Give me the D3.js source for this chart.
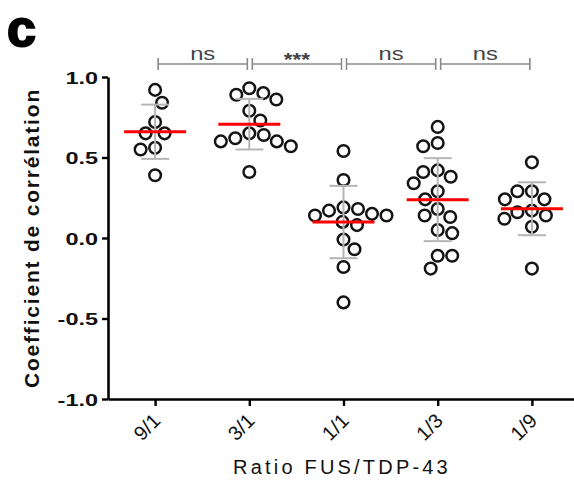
<!DOCTYPE html>
<html>
<head>
<meta charset="utf-8">
<script src="https://cdn.jsdelivr.net/npm/d3@7"></script>
<style>
  body { margin: 0; background: #fff; }
  svg { display: block; font-family: "Liberation Sans", Arial, sans-serif; }
</style>
</head>
<body>
<div id="wrapper"></div>
<script>
// categories (FUS/TDP-43 ratio) and correlation coefficients per group
const categories = ["9/1", "3/1", "1/1", "1/3", "1/9"]
const values91 = [0.92, 0.84, 0.72, 0.65, 0.65, 0.56, 0.55, 0.39]
const values31 = [0.93, 0.89, 0.86, 0.90, 0.79, 0.73, 0.64, 0.60, 0.60, 0.62, 0.65, 0.57, 0.41]
const values11 = [0.54, 0.36, 0.18, 0.10, 0.14, 0.14, 0.15, 0.17, 0.19, 0.08, -0.01, -0.07, -0.18, -0.40]
const values13 = [0.69, 0.57, 0.59, 0.42, 0.38, 0.34, 0.41, 0.29, 0.24, 0.18, 0.14, 0.13, 0.05, 0.03, -0.11, -0.11, -0.19]
const values19 = [0.47, 0.29, 0.24, 0.24, 0.29, 0.16, 0.12, 0.07, 0.14, 0.17, -0.19]
const sigLabels = ["ns", "***", "ns", "ns"]
const yTicks = [-1.0, -0.5, 0.0, 0.5, 1.0]

const groups = categories.map((c, i) => ({
    cat: c,
    values: [values91, values31, values11, values13, values19][i],
}))

const dimensions = {
    width: 574,
    height: 490,
    margin: { top: 77, right: -5, bottom: 91, left: 108 },
}
dimensions.boundedWidth = dimensions.width - dimensions.margin.left - dimensions.margin.right
dimensions.boundedHeight = dimensions.height - dimensions.margin.top - dimensions.margin.bottom

const svg = d3.select("#wrapper")
    .append("svg")
    .attr("width", dimensions.width)
    .attr("height", dimensions.height)

const bounds = svg.append("g")
    .attr("transform", `translate(${dimensions.margin.left},${dimensions.margin.top})`)

const xScale = d3.scalePoint()
    .domain(categories)
    .range([0, dimensions.boundedWidth])
    .padding(0.5)

const yScale = d3.scaleLinear()
    .domain([-1, 1])
    .range([dimensions.boundedHeight, 0])

// simple greedy beeswarm: nearest free horizontal offset for each point
function swarm(vals, minDist) {
    const placed = []
    const sorted = vals.slice().sort((a, b) => b - a)
    sorted.forEach((v, idx) => {
        const y = yScale(v)
        let found = null
        for (let k = 0; k < 400 && found === null; k++) {
            const cands = k === 0 ? [0] : (idx % 2 ? [k * 0.5, -k * 0.5] : [-k * 0.5, k * 0.5])
            for (const dx of cands) {
                const ok = placed.every(p => Math.hypot(p.dx - dx, p.y - y) >= minDist)
                if (ok) { found = dx; break }
            }
        }
        placed.push({ v: v, y: y, dx: found })
    })
    return placed
}

// y axis
const yAxis = bounds.append("g")
    .call(d3.axisLeft(yScale).tickValues(yTicks).tickFormat(d3.format(".1f")).tickSize(6).tickSizeOuter(0))
yAxis.select(".domain").attr("stroke", "#000").attr("stroke-width", 2.6)
yAxis.selectAll(".tick line").attr("stroke", "#000").attr("stroke-width", 2.4)
yAxis.selectAll(".tick text")
    .attr("x", null)
    .attr("dy", "0.36em")
    .attr("transform", "translate(-10,0) scale(1.38,1)")
    .attr("font-size", 17)
    .attr("font-weight", "bold")
    .attr("fill", "#111")
    .text(d => d3.format(".1f")(d).replace("−", "-"))

// x axis
const xAxis = bounds.append("g")
    .attr("transform", `translate(0,${dimensions.boundedHeight})`)
    .call(d3.axisBottom(xScale).tickSize(7).tickSizeOuter(0))
xAxis.select(".domain").attr("stroke", "#000").attr("stroke-width", 2.6)
xAxis.selectAll(".tick line").attr("stroke", "#000").attr("stroke-width", 2.4)
xAxis.selectAll(".tick text")
    .attr("x", null).attr("y", null).attr("dy", null)
    .attr("text-anchor", "end")
    .attr("transform", "translate(6,23) rotate(-45)")
    .attr("font-size", 20)
    .attr("fill", "#111")

// points, error bars (SD) and mean lines
groups.forEach(g => {
    const cx = xScale(g.cat)
    const pts = swarm(g.values, 14.5)
    const mean = d3.mean(g.values)
    const sd = d3.deviation(g.values)

    bounds.append("g").selectAll("circle")
        .data(pts)
        .join("circle")
        .attr("cx", d => cx + d.dx)
        .attr("cy", d => d.y)
        .attr("r", 5.8)
        .attr("fill", "none")
        .attr("stroke", "#141414")
        .attr("stroke-width", 2.5)

    const eb = bounds.append("g")
        .attr("stroke", "#b5b5b5")
        .attr("stroke-width", 2)
    eb.append("line")
        .attr("x1", cx).attr("x2", cx)
        .attr("y1", yScale(mean + sd)).attr("y2", yScale(mean - sd))
    ;[mean + sd, mean - sd].forEach(v => {
        eb.append("line")
            .attr("x1", cx - 14).attr("x2", cx + 14)
            .attr("y1", yScale(v)).attr("y2", yScale(v))
    })

    bounds.append("line")
        .attr("x1", cx - 31).attr("x2", cx + 31)
        .attr("y1", yScale(mean)).attr("y2", yScale(mean))
        .attr("stroke", "#ff0000")
        .attr("stroke-width", 3)
})

// significance brackets between neighbouring groups
const bracketY = yScale(1) - 13
sigLabels.forEach((lab, i) => {
    const x1 = xScale(categories[i]) + 3
    const x2 = xScale(categories[i + 1]) - 2
    const br = bounds.append("g")
        .attr("stroke", "#8a8a8a")
        .attr("stroke-width", 1.6)
    br.append("line").attr("x1", x1).attr("x2", x2).attr("y1", bracketY).attr("y2", bracketY)
    br.append("line").attr("x1", x1).attr("x2", x1).attr("y1", bracketY - 6).attr("y2", bracketY + 6)
    br.append("line").attr("x1", x2).attr("x2", x2).attr("y1", bracketY - 6).attr("y2", bracketY + 6)

    bounds.append("text")
        .attr("transform", `translate(${(x1 + x2) / 2},${lab === "ns" ? bracketY - 4 : bracketY + 2}) scale(1.25,1)`)
        .attr("text-anchor", "middle")
        .attr("font-size", lab === "ns" ? 19 : 18)
        .attr("font-weight", lab === "ns" ? "normal" : "bold")
        .attr("fill", "#444")
        .text(lab)
})

// axis titles
svg.append("text")
    .attr("transform", "translate(39,238) rotate(-90)")
    .attr("text-anchor", "middle")
    .attr("font-size", 21)
    .attr("font-weight", "bold")
    .attr("letter-spacing", 1.8)
    .attr("fill", "#111")
    .text("Coefficient de corrélation")

svg.append("text")
    .attr("x", 342)
    .attr("y", 474)
    .attr("text-anchor", "middle")
    .attr("font-size", 20)
    .attr("letter-spacing", 3.2)
    .attr("fill", "#111")
    .text("Ratio FUS/TDP-43")

// panel letter
svg.append("text")
    .attr("x", 7)
    .attr("y", 46)
    .attr("font-size", 52)
    .attr("font-weight", "bold")
    .attr("stroke", "#000")
    .attr("stroke-width", 2)
    .attr("fill", "#000")
    .text("c")
</script>
</body>
</html>
